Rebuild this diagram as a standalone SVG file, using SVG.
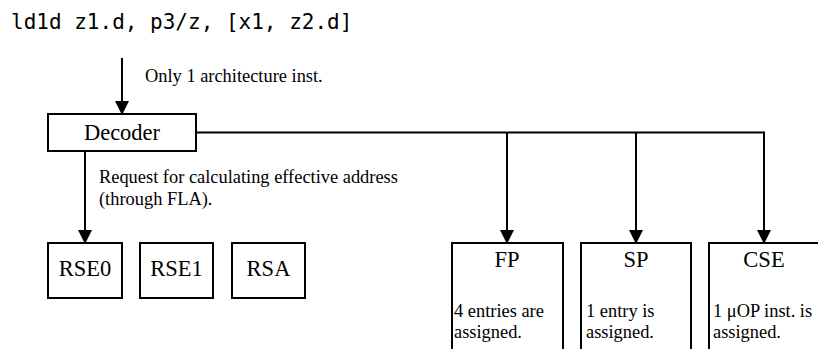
<svg xmlns="http://www.w3.org/2000/svg" width="818" height="349" viewBox="0 0 818 349">
<defs>
<marker id="ah" markerWidth="16" markerHeight="14" refX="13" refY="7" orient="auto" markerUnits="userSpaceOnUse">
<path d="M0,0 L14,7 L0,14 Z" fill="#000"/>
</marker>
<style>
.box{fill:#fff;stroke:#000;stroke-width:2}
.big{font-family:"Liberation Serif","Times New Roman",serif;font-size:22.5px;fill:#000}
.small{font-family:"Liberation Serif","Times New Roman",serif;font-size:18.4px;fill:#000}
.mono{font-family:"DejaVu Sans Mono","Liberation Mono",monospace;font-size:21px;fill:#000}
.line{fill:none;stroke:#000;stroke-width:2}
</style>
</defs>
<rect width="818" height="349" fill="#fff"/>
<text class="mono" x="11" y="29">ld1d z1.d, p3/z, [x1, z2.d]</text>
<g id="connectors">
<line class="line" x1="122" y1="58" x2="122" y2="114" marker-end="url(#ah)"/>
<line class="line" x1="85" y1="151" x2="85" y2="243" marker-end="url(#ah)"/>
<polyline class="line" points="196,132.5 764,132.5"/>
<line class="line" x1="507" y1="132.5" x2="507" y2="243" marker-end="url(#ah)"/>
<line class="line" x1="636" y1="132.5" x2="636" y2="243" marker-end="url(#ah)"/>
<line class="line" x1="764" y1="131.5" x2="764" y2="243" marker-end="url(#ah)"/>
<text class="small" x="145" y="82">Only 1 architecture inst.</text>
<text class="small" x="99" y="183">Request for calculating effective address</text>
<text class="small" x="99" y="205">(through FLA).</text>
</g>
<g id="decoder">
<rect class="box" x="48" y="114" width="148" height="37"/>
<text class="big" x="122" y="140" text-anchor="middle">Decoder</text>
</g>
<g id="rse0">
<rect class="box" x="48" y="243" width="74" height="55"/>
<text class="big" x="85" y="276" text-anchor="middle">RSE0</text>
</g>
<g id="rse1">
<rect class="box" x="140" y="243" width="73" height="55"/>
<text class="big" x="176.5" y="276" text-anchor="middle">RSE1</text>
</g>
<g id="rsa">
<rect class="box" x="232" y="243" width="73" height="55"/>
<text class="big" x="268.5" y="276" text-anchor="middle">RSA</text>
</g>
<g id="fp">
<rect class="box" x="452" y="243" width="111" height="120"/>
<text class="big" x="507" y="267" text-anchor="middle">FP</text>
<text class="small" x="454" y="317">4 entries are</text>
<text class="small" x="454" y="338">assigned.</text>
</g>
<g id="sp">
<rect class="box" x="581" y="243" width="110" height="120"/>
<text class="big" x="636" y="267" text-anchor="middle">SP</text>
<text class="small" x="586" y="317">1 entry is</text>
<text class="small" x="586" y="338">assigned.</text>
</g>
<g id="cse">
<rect class="box" x="709" y="243" width="115" height="120"/>
<text class="big" x="764" y="267" text-anchor="middle">CSE</text>
<text class="small" x="713" y="317">1 μOP inst. is</text>
<text class="small" x="713" y="338">assigned.</text>
</g>
</svg>
